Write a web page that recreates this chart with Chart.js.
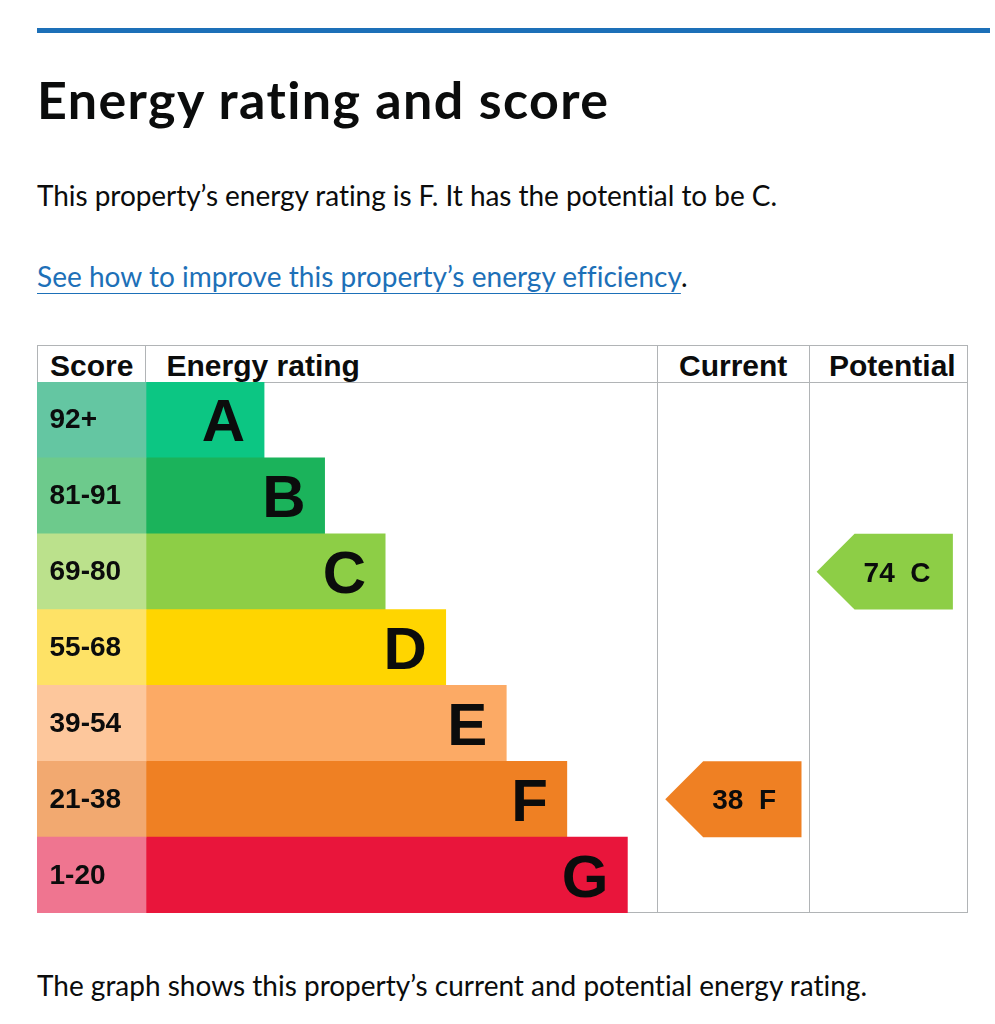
<!DOCTYPE html>
<html lang="en">
<head>
<meta charset="utf-8">
<title>Energy rating and score</title>
<script src="https://cdn.jsdelivr.net/npm/chart.js@4.4.1/dist/chart.umd.min.js"></script>
<style>
  html, body { margin: 0; background: #fff; }
  body { position: relative; width: 995px; height: 1024px; overflow: hidden; color: #0b0c0c; font-family: Lato, "Noto Sans", sans-serif; }
  .rule { position: absolute; left: 37px; top: 28px; width: 953px; height: 5px; background: #1d70b8; }
  .txt { position: absolute; left: 37px; top: 0; margin: 0; white-space: nowrap; }
  h1.txt { font-size: 52px; font-weight: 700; line-height: 1; }
  p.txt { font-size: 28px; font-weight: 400; line-height: 1; }
  a { color: #1d70b8; text-decoration: underline; text-decoration-thickness: 1px; text-underline-offset: 6px; }
  #epc { position: absolute; left: 37px; top: 345px; width: 931px; height: 568px; }
  .frame { position: absolute; left: 0; top: 0; width: 931px; height: 568px; border: 1px solid #b1b4b6; box-sizing: border-box; }
  .line { position: absolute; background: #b1b4b6; }
  .th { position: absolute; top: 0; font: bold 30px "Liberation Sans", Arial, sans-serif; white-space: nowrap; line-height: 1; }
  #chartBox { position: absolute; left: 0; top: 37px; width: 931px; height: 531px; }
</style>
</head>
<body>
<div class="rule"></div>
<h1 class="txt" id="title">Energy rating and score</h1>
<p class="txt" id="p1">This property’s energy rating is F. It has the potential to be C.</p>
<p class="txt" id="p2"><a href="#">See how to improve this property’s energy efficiency</a>.</p>

<div id="epc">
  <div class="frame"></div>
  <div class="line" style="left:0;top:37px;width:931px;height:1px"></div>
  <div class="line" style="left:108px;top:0;width:1px;height:37px"></div>
  <div class="line" style="left:620px;top:0;width:1px;height:568px"></div>
  <div class="line" style="left:772px;top:0;width:1px;height:568px"></div>
  <div class="th" id="hScore">Score</div>
  <div class="th" id="hRating">Energy rating</div>
  <div class="th" id="hCurrent">Current</div>
  <div class="th" id="hPotential">Potential</div>
  <div id="chartBox"><canvas id="epcChart" width="931" height="531"></canvas></div>
</div>

<p class="txt" id="p3">The graph shows this property’s current and potential energy rating.</p>

<script>
// EPC bands
const bands = ['A', 'B', 'C', 'D', 'E', 'F', 'G'];
const scoreRanges = ['92+', '81-91', '69-80', '55-68', '39-54', '21-38', '1-20'];
const bandMinScore = [92, 81, 69, 55, 39, 21, 1];
const bandLength = [78, 118, 158, 198, 238, 278, 318];
const currentScore = 38;
const potentialScore = 74;

const bandColours = ['#0cc683', '#1bb35b', '#8dce46', '#ffd500', '#fcaa65', '#ef8023', '#e9153b'];
const scoreColours = ['#64c6a2', '#6dca8c', '#bbe18c', '#fee266', '#fdc79c', '#f2a970', '#ef7590'];

// table layout, in svg-ish units (table is 615 wide)
const TABLE_W = 615;
const SCORE_COL = 72;
const CURRENT_COL = 410;
const POTENTIAL_COL = 510;
const ARROW_INSET = 5;
const ARROW_W = 90;
const FONT = '"Liberation Sans", Arial, sans-serif';

function bandOf(score) {
  return bandMinScore.findIndex(m => score >= m);
}

// put text on a given baseline, and stretch it to the width seen in the picture
function setText(el, left, baseline, width) {
  const m = document.createElement('span');
  m.style.cssText = 'display:inline-block;width:0;height:0';
  el.prepend(m);
  el.style.left = left + 'px';
  el.style.top = '0px';
  const b = m.getBoundingClientRect().top - el.offsetParent.getBoundingClientRect().top;
  el.style.top = (baseline - b) + 'px';
  if (width) {
    const w0 = el.getBoundingClientRect().width;
    const n = el.textContent.length;
    el.style.letterSpacing = ((width - w0) / (n - 1)) + 'px';
  }
}

setText(document.getElementById('title'), 37, 119, 572);
setText(document.getElementById('p1'), 37, 206, 741);
setText(document.getElementById('p2'), 37, 287, 649);
setText(document.getElementById('p3'), 37, 996, 831);
setText(document.getElementById('hScore'), 13, 30.5);
setText(document.getElementById('hRating'), 129.5, 30.5);
setText(document.getElementById('hCurrent'), 642, 30.5);
setText(document.getElementById('hPotential'), 792, 30.5);

const epcMarks = {
  id: 'epcMarks',
  afterDatasetsDraw(chart) {
    const { ctx, scales: { x, y } } = chart;
    const rowH = y.height / bands.length;
    ctx.save();
    ctx.fillStyle = '#0b0c0c';
    ctx.textBaseline = 'alphabetic';

    // score ranges in the first column
    ctx.font = 'bold 28px ' + FONT;
    ctx.textAlign = 'left';
    scoreRanges.forEach((s, i) => {
      ctx.fillText(s, x.getPixelForValue(0) + 12.5, y.getPixelForValue(i) + 8.5);
    });

    // band letters at the end of each bar
    ctx.font = 'bold 60px ' + FONT;
    ctx.textAlign = 'right';
    bands.forEach((b, i) => {
      const end = x.getPixelForValue(SCORE_COL + bandLength[i]);
      ctx.fillText(b, end - 19, y.getPixelForValue(i) + 21.5);
    });

    const arrow = (col, score) => {
      const i = bandOf(score);
      const cy = y.getPixelForValue(i);
      const top = cy - rowH / 2, bot = cy + rowH / 2;
      const tip = x.getPixelForValue(col + ARROW_INSET);
      const right = x.getPixelForValue(col + ARROW_INSET + ARROW_W);
      ctx.beginPath();
      ctx.moveTo(tip, cy);
      ctx.lineTo(tip + rowH / 2, top);
      ctx.lineTo(right, top);
      ctx.lineTo(right, bot);
      ctx.lineTo(tip + rowH / 2, bot);
      ctx.closePath();
      ctx.fillStyle = bandColours[i];
      ctx.fill();
      ctx.fillStyle = '#0b0c0c';
      ctx.font = 'bold 28px ' + FONT;
      ctx.textAlign = 'left';
      ctx.fillText(score + '  ' + bands[i], tip + 47, cy + 10);
    };
    arrow(CURRENT_COL, currentScore);
    arrow(POTENTIAL_COL, potentialScore);
    ctx.restore();
  }
};

new Chart(document.getElementById('epcChart'), {
  type: 'bar',
  data: {
    labels: bands,
    datasets: [
      {
        label: 'Score',
        data: bands.map(() => SCORE_COL),
        backgroundColor: scoreColours,
      },
      {
        label: 'Energy rating',
        data: bandLength,
        backgroundColor: bandColours,
      },
    ],
  },
  options: {
    indexAxis: 'y',
    responsive: false,
    animation: false,
    layout: { padding: 0 },
    datasets: { bar: { barPercentage: 1, categoryPercentage: 1, borderWidth: 0 } },
    plugins: { legend: { display: false }, tooltip: { enabled: false } },
    scales: {
      x: { type: 'linear', stacked: true, min: 0, max: TABLE_W, display: false },
      y: { stacked: true, display: false },
    },
  },
  plugins: [epcMarks],
});
</script>
</body>
</html>
